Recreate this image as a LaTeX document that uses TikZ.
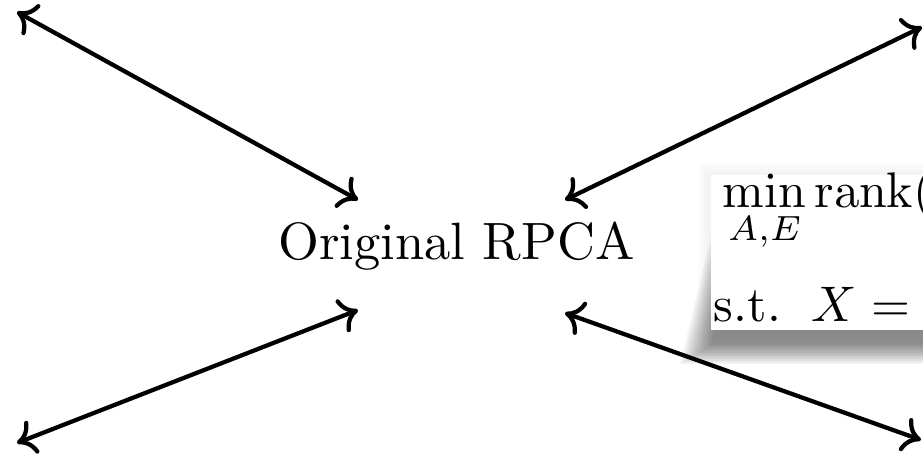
\documentclass[tikz,border=0pt]{standalone}
\usepackage{amsmath}
\usetikzlibrary{arrows.meta}
\begin{document}
\begin{tikzpicture}[x=0.2pt,y=-0.2pt,
  link/.style={line width=0.85pt, {To[length=3.6pt,width=7pt]}-{To[length=3.6pt,width=7pt]}},
  lbl/.style={inner sep=0pt, font=\fontsize{10.5}{12}\selectfont},
  shad/.style={fill=black, opacity=0.045}]
\useasboundingbox (0,0) rectangle (923,462);
% faint glow around the box
\foreach \k in {0,...,3}{
  \fill[black, opacity=0.012] (698+\k*3,163+\k*3) rectangle (1000,345-\k*3);
}
% drop shadow (wider at the bottom)
\foreach \k in {0,...,12}{
  \fill[shad] (712+\k*1.6,232+\k*1.6) -- (1000,232+\k*1.6) -- (1000,364-\k*1.6) -- (680+\k*2.6,364-\k*1.6) -- cycle;
}
% formula box
\fill[white] (711,175) rectangle (1000,330);
\node[lbl, font=\fontsize{9.8}{12}\selectfont, anchor=base west] (obj) at (722,208) {$\displaystyle\min_{A,E}\operatorname{rank}(A)+\lambda\|E\|_0$};
\node[lbl, font=\fontsize{10}{12}\selectfont, anchor=base west] (st) at (713,322) {s.t.\hspace{6.2pt}$X = A + E$};
% centre label
\node[lbl, anchor=base] (rpca) at (456.5,260) {Original RPCA};
% arrow ends
\coordinate (tl) at (17,12);
\coordinate (ctl) at (358,200);
\coordinate (bl) at (17,443);
\coordinate (cbl) at (358,310);
\coordinate (tr) at (922,27);
\coordinate (ctr) at (565,200);
\coordinate (br) at (921,440);
\coordinate (cbr) at (565,313);
\draw[link] (tl) -- (ctl);
\draw[link] (bl) -- (cbl);
\draw[link] (ctr) -- (tr);
\draw[link] (cbr) -- (br);
\end{tikzpicture}
\end{document}
